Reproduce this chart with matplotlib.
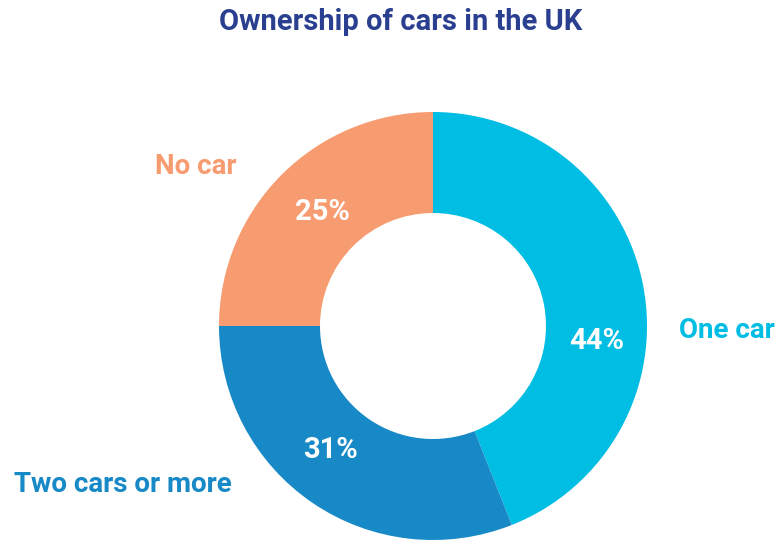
import matplotlib.pyplot as plt

plt.rcParams['font.family'] = ['Roboto', 'DejaVu Sans']

# data
categories = ['One car', 'Two cars or more', 'No car']
shares = [44, 31, 25]
colors = ['#00BDE3', '#1789C6', '#F79B70']

fig = plt.figure(figsize=(7.79, 5.40), dpi=100)
ax = fig.add_axes([0, 0, 1, 1])

ax.pie(shares, colors=colors, startangle=90, counterclock=False,
       center=(433, -326), radius=214, frame=True,
       wedgeprops=dict(width=101, linewidth=0))

ax.set_xlim(0, 779)
ax.set_ylim(-540, 0)
ax.set_aspect('equal')
ax.axis('off')

# title
ax.text(401, -22, 'Ownership of cars in the UK', ha='center', va='center',
        fontsize=21, fontweight='bold', color='#2A3F8F')

# category labels
lab_pos = [(727, -330), (123, -485), (196, -167)]
for cat, col, (x, y) in zip(categories, colors, lab_pos):
    ax.text(x, y, cat, ha='center', va='center', fontsize=20,
            fontweight='bold', color=col)

# percent labels
pct_pos = [(597, -341), (331, -450), (322, -212)]
for v, (x, y) in zip(shares, pct_pos):
    ax.text(x, y, f'{v}%', ha='center', va='center', fontsize=21,
            fontweight='bold', color='white')

fig.savefig('out.png', dpi=100)
